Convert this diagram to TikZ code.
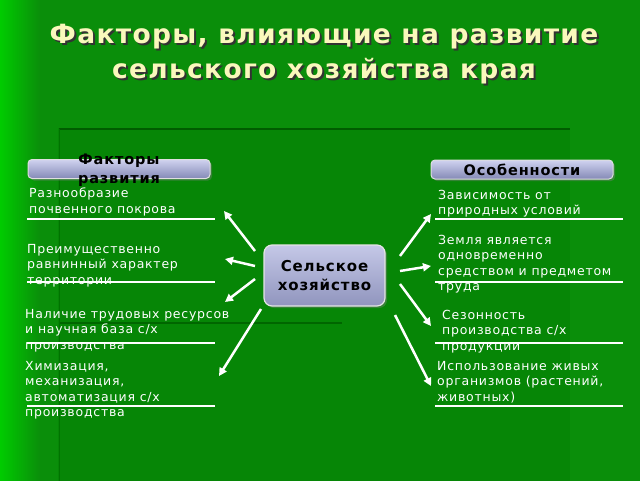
\documentclass[tikz,border=0pt]{standalone}
\usepackage{fontspec}
\setmainfont{DejaVu Sans}
\newfontfamily\itemfont{DejaVu Sans}[LetterSpace=6]
\newfontfamily\hdrfont{DejaVu Sans}[LetterSpace=6]
\newfontfamily\titlefont{DejaVu Sans}[LetterSpace=5]
\usetikzlibrary{arrows.meta,shadows}

\definecolor{bggreen}{RGB}{10,142,10}
\definecolor{panelgreen}{RGB}{6,134,6}
\definecolor{edgegreen}{RGB}{0,92,0}
\definecolor{brightgreen}{RGB}{0,205,0}
\definecolor{titleyellow}{RGB}{250,248,188}
\definecolor{boxtop}{RGB}{208,211,240}
\definecolor{boxbot}{RGB}{132,137,182}

\begin{document}
\begin{tikzpicture}[x=1pt,y=-1pt,inner sep=0pt,
  item/.style={anchor=north west,align=left,text=white,font=\itemfont\fontsize{12.5}{15.5}\selectfont},
  uline/.style={draw=white,line width=2pt},
  arr/.style={draw=white,line width=2.5pt,-{Triangle[length=8pt,width=8pt]}},
  hdrbox/.style={rounded corners=4pt,top color=boxtop,bottom color=boxbot,draw=gray!25,line width=1pt,
    drop shadow={shadow xshift=2pt,shadow yshift=-2pt,opacity=0.4}},
  hdrtxt/.style={align=center,font=\hdrfont\fontsize{14.5}{19}\selectfont\bfseries},
  titletxt/.style={align=center,font=\titlefont\fontsize{26.5}{35}\selectfont\bfseries}]

\useasboundingbox (0,0) rectangle (640,480);
% background
\fill[bggreen] (-1,-1) rectangle (641,481);
\shade[left color=brightgreen,right color=bggreen] (-1,-1) rectangle (40,481);
\fill[panelgreen] (58,128) rectangle (570,481);
\draw[edgegreen,line width=2pt] (59,129) -- (570,129);
\draw[green!45!black,line width=1pt] (59,129) -- (59,481);
\draw[green!40!black,line width=1.5pt] (60,323) -- (342,323);

% title
\node[titletxt,text=black!80] (titleshadow) at (326,56) {Факторы, влияющие на развитие\\сельского хозяйства края};
\node[titletxt,text=titleyellow] (title) at (324,54) {Факторы, влияющие на развитие\\сельского хозяйства края};

% headers
\node[hdrbox,minimum width=182pt,minimum height=19pt] (fbox) at (119,169) {};
\node[hdrtxt] (ftxt) at (119,170.5) {Факторы\\развития};
\node[hdrbox,minimum width=182pt,minimum height=19pt] (obox) at (522,169.5) {};
\node[hdrtxt] (otxt) at (obox) {Особенности};

% hub
\node[rounded corners=8pt,minimum width=121pt,minimum height=61pt,draw=gray!20,line width=1.2pt,
  top color=boxtop!85!boxbot,bottom color=boxbot!90!white,
  drop shadow={shadow xshift=2pt,shadow yshift=-2pt,opacity=0.4}] (hub) at (324.5,275.5) {};
\node[hdrtxt,font=\hdrfont\fontsize{15}{19}\selectfont\bfseries] (hubtxt) at (hub) {Сельское\\хозяйство};

% factors
\node[item] (L1) at (29,188) {Разнообразие\\почвенного покрова};
\node[item] (L2) at (27,244) {Преимущественно\\равнинный характер\\территории};
\node[item] (L3) at (25,309) {Наличие трудовых ресурсов\\и научная база с/х\\производства};
\node[item] (L4) at (25,361) {Химизация,\\механизация,\\автоматизация с/х\\производства};
\draw[uline] (27,219) -- (215,219);
\draw[uline] (27,282) -- (215,282);
\draw[uline] (27,343) -- (215,343);
\draw[uline] (27,406) -- (215,406);

% features
\node[item] (R1) at (438,190) {Зависимость от\\природных условий};
\node[item] (R2) at (438,235) {Земля является\\одновременно\\средством и предметом\\труда};
\node[item] (R3) at (442,310) {Сезонность\\производства с/х\\продукции};
\node[item] (R4) at (437,361) {Использование живых\\организмов (растений,\\животных)};
\draw[uline] (435,219) -- (623,219);
\draw[uline] (435,282) -- (623,282);
\draw[uline] (435,343) -- (623,343);
\draw[uline] (435,406) -- (623,406);

% arrows
\coordinate (hL1) at (255,251); \coordinate (tL1) at (224,211);
\coordinate (hL2) at (255,266); \coordinate (tL2) at (225,259);
\coordinate (hL3) at (255,279); \coordinate (tL3) at (225,302);
\coordinate (hL4) at (261,309); \coordinate (tL4) at (219,376);
\coordinate (hR1) at (400,256); \coordinate (tR1) at (431,214);
\coordinate (hR2) at (400,271); \coordinate (tR2) at (431,266);
\coordinate (hR3) at (400,284); \coordinate (tR3) at (431,326);
\coordinate (hR4) at (395,315); \coordinate (tR4) at (431,386);
\foreach \i in {L1,L2,L3,L4,R1,R2,R3,R4}
  \draw[arr] (h\i) -- (t\i);

\end{tikzpicture}
\end{document}
